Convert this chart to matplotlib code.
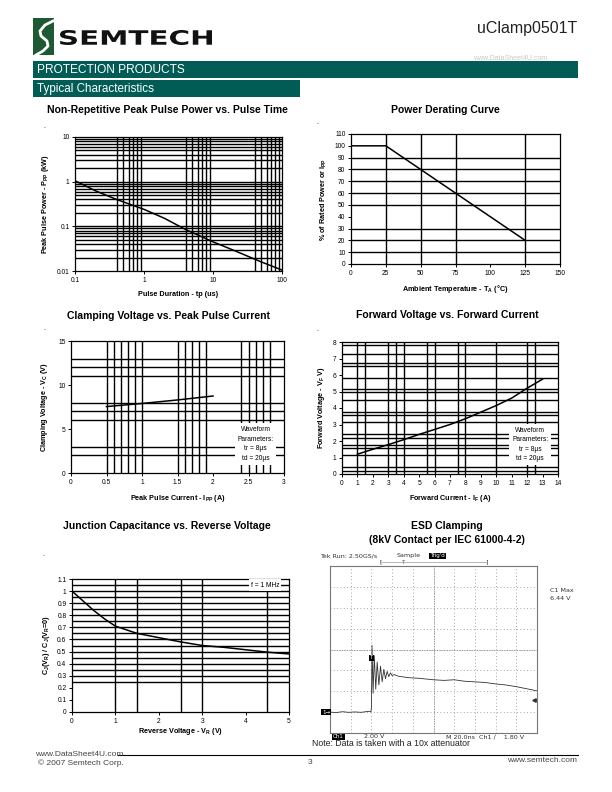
import matplotlib
matplotlib.use("Agg")
import matplotlib.pyplot as plt
from matplotlib.patches import Rectangle, PathPatch
from matplotlib.textpath import TextPath
from matplotlib.font_manager import FontProperties
from matplotlib.transforms import Affine2D
from matplotlib.lines import Line2D

W, H = 612, 792
GREEN = "#005c55"
LOGO_GREEN = "#1d5a34"
NARROW = ["Liberation Sans Narrow", "Liberation Sans", "DejaVu Sans"]

# ---- data ----
pulse_tp = [0.1, 0.2, 0.4, 1, 2, 4, 10, 20, 50, 100]
pulse_ppp = [1.05, 0.62, 0.40, 0.24, 0.15, 0.085, 0.045, 0.029, 0.016, 0.0105]
pulse_vgrid = [0.4, 0.5, 0.6, 0.7, 0.8, 0.9, 4, 5, 6, 7, 8, 9, 40, 50, 60, 70, 80, 90]
pulse_hgrid = [0.02, 0.03, 0.04, 0.05, 0.06, 0.07, 0.08, 0.09, 0.1,
               0.2, 0.3, 0.4, 0.5, 0.6, 0.7, 0.8, 0.9, 1,
               2, 3, 4, 5, 6, 7, 8, 9]

derate_temp = [0, 25, 125]
derate_pct = [100, 100, 20]
derate_vgrid = [25, 50, 75, 125]
derate_hgrid = [10, 20, 30, 50, 60, 70, 80, 90]

clamp_ipp = [0.5, 1.0, 1.5, 2.0]
clamp_vc = [7.55, 7.9, 8.3, 8.75]
clamp_vgrid = [0.5, 0.6, 0.7, 0.8, 0.9, 1.0, 1.5, 1.6, 1.7, 1.8, 1.9, 2.4, 2.5, 2.6, 2.7, 2.8]
clamp_hgrid = [2, 3, 6, 7, 8, 11, 12, 13]

fwd_if = [1, 2, 3, 4, 5, 6, 7, 8, 9, 10, 11, 12, 13]
fwd_vf = [1.2, 1.5, 1.78, 2.08, 2.4, 2.7, 3.0, 3.35, 3.75, 4.15, 4.6, 5.2, 5.75]
fwd_vgrid = [1, 1.5, 3, 3.5, 4, 5.5, 6, 7.5, 8, 10, 12, 12.5]
fwd_hgrid = [7.8, 7.3, 6.7, 6.55, 5.8, 5.15, 4.95, 4.5, 3.75, 3.6, 3.15,
             2.4, 2.2, 1.75, 1.55, 1.15, 0.4, 0.2]

cap_vr = [0, 0.25, 0.5, 0.75, 1, 1.5, 2, 2.5, 3, 3.5, 4, 4.5, 5]
cap_ratio = [1.0, 0.92, 0.84, 0.77, 0.71, 0.65, 0.615, 0.58, 0.55, 0.535, 0.515, 0.495, 0.48]
cap_vgrid = [1, 1.5, 2.5, 3, 4.5]
cap_hgrid = [0.25, 0.3, 0.35, 0.4, 0.45, 0.5, 0.55, 0.6, 0.65, 0.7, 0.75,
             0.8, 0.85, 0.9, 0.95, 1.0, 1.05]

# scope trace, in screen divisions (10 x 8)
esd_x = [0, 0.3, 0.6, 0.9, 1.2, 1.5, 1.8, 1.98, 2.0, 2.03, 2.08, 2.14, 2.21, 2.28,
         2.36, 2.44, 2.52, 2.6, 2.68, 2.76, 2.84, 2.92, 3.0, 3.1, 3.3, 3.8, 4.3,
         5.0, 5.5, 6.0, 6.5, 7.0, 7.5, 8.0, 8.5, 9.0, 9.5, 10.0]
esd_y = [1.0, 0.98, 1.02, 0.99, 1.01, 0.99, 1.03, 1.02, 1.2, 4.2, 1.9, 3.7, 2.1, 3.4,
         2.3, 3.2, 2.45, 3.05, 2.6, 2.95, 2.7, 2.88, 2.75, 2.8, 2.72, 2.65, 2.62,
         2.55, 2.52, 2.55, 2.48, 2.45, 2.42, 2.35, 2.3, 2.22, 2.12, 2.02]

plt.rcParams['font.family'] = ['Liberation Sans', 'DejaVu Sans']
plt.rcParams['mathtext.default'] = 'regular'

fig = plt.figure(figsize=(6.12, 7.92), dpi=100)


def box(x0, y0, x1, y1):
    return [x0 / W, 1 - y1 / H, (x1 - x0) / W, (y1 - y0) / H]


def ftext(x, y, s, **kw):
    kw.setdefault('va', 'center')
    return fig.text(x / W, 1 - y / H, s, **kw)


def frect(x0, y0, x1, y1, color):
    fig.add_artist(Rectangle((x0 / W, 1 - y1 / H), (x1 - x0) / W, (y1 - y0) / H,
                             transform=fig.transFigure, color=color, lw=0))


def fline(xs, ys, **kw):
    fig.add_artist(Line2D([x / W for x in xs], [1 - y / H for y in ys],
                          transform=fig.transFigure, **kw))


def style(ax, xlabel, ylabel, xpad=3, ypad=3):
    for sp in ax.spines.values():
        sp.set_linewidth(0.9)
    ax.tick_params(labelsize=4.8, length=2.5, width=0.7, pad=1.5, direction='out')
    ax.set_xlabel(xlabel, fontsize=5.2, fontweight='bold', labelpad=xpad)
    ax.set_ylabel(ylabel, fontsize=5.2, fontweight='bold', labelpad=ypad)


def grid(ax, vlines, hlines):
    for v in vlines:
        ax.axvline(v, color='black', lw=1.0, zorder=1)
    for h in hlines:
        ax.axhline(h, color='black', lw=1.0, zorder=1)


# ---- header ----
frect(33, 18, 54, 55, LOGO_GREEN)
fline([53, 45, 40, 41, 47, 48, 43, 36], [21, 25, 31, 36, 41, 46, 51, 55], color='white', lw=2.0)
tp = TextPath((0, 0), "SEMTECH", size=1, prop=FontProperties(family='DejaVu Sans', weight='bold'))
ext = tp.get_extents()
tr = (Affine2D().translate(-ext.x0, -ext.y0).scale(152 / ext.width, 15 / ext.height)
      .translate(60, H - 45).scale(1 / W, 1 / H) + fig.transFigure)
fig.add_artist(PathPatch(tp, transform=tr, color='#111111', lw=0))
ftext(577, 28, "uClamp0501T", fontsize=11.5, ha='right', color='#222222')
ftext(510, 59, "www.DataSheet4U.com", fontsize=5, ha='center', color='#c8c8c8')

frect(33, 61, 578, 78, GREEN)
ftext(37, 70, "PROTECTION PRODUCTS", fontsize=8.6, color='white', family=NARROW)
frect(33, 80, 300, 97, GREEN)
ftext(37, 89, "Typical Characteristics", fontsize=8.4, color='white', family=NARROW)

title_kw = dict(fontsize=7.5, fontweight='bold', ha='center', family=NARROW)
ftext(167, 110, "Non-Repetitive Peak Pulse Power vs. Pulse Time", **title_kw)
ftext(445, 110, "Power Derating Curve", **title_kw)
ftext(168, 316, "Clamping Voltage vs. Peak Pulse Current", **title_kw)
ftext(447, 315, "Forward Voltage vs. Forward Current", **title_kw)
ftext(167, 526, "Junction Capacitance vs. Reverse Voltage", **title_kw)
ftext(447, 526, "ESD Clamping", **title_kw)
ftext(447, 540, "(8kV Contact per IEC 61000-4-2)", **title_kw)
for dx, dy in [(43, 126), (316, 123), (43, 328), (316, 329), (42, 555)]:
    ftext(dx, dy, ".", fontsize=5)

# ---- peak pulse power ----
ax1 = fig.add_axes(box(75, 137, 282, 271))
ax1.set_xscale('log')
ax1.set_yscale('log')
grid(ax1, pulse_vgrid, pulse_hgrid)
ax1.plot(pulse_tp, pulse_ppp, color='black', lw=1.1, zorder=3)
ax1.set_xlim(0.1, 100)
ax1.set_ylim(0.01, 10)
ax1.set_xticks([0.1, 1, 10, 100], ["0.1", "1", "10", "100"])
ax1.set_yticks([0.01, 0.1, 1, 10], ["0.01", "0.1", "1", "10"])
ax1.minorticks_off()
style(ax1, "Pulse Duration - tp (us)", "Peak Pulse Power - P$_{PP}$ (kW)", 5, 4)

# ---- power derating ----
ax2 = fig.add_axes(box(351, 134, 560, 264))
grid(ax2, derate_vgrid, derate_hgrid)
ax2.plot(derate_temp, derate_pct, color='black', lw=1.1, zorder=3)
ax2.set_xlim(0, 150)
ax2.set_ylim(0, 110)
ax2.set_xticks([0, 25, 50, 75, 100, 125, 150])
ax2.set_yticks(range(0, 111, 10))
style(ax2, "Ambient Temperature - T$_A$ ($\\degree$C)", "% of Rated Power or I$_{PP}$", 5, 4)

# ---- clamping voltage ----
ax3 = fig.add_axes(box(71, 341, 284, 473))
grid(ax3, clamp_vgrid, clamp_hgrid)
ax3.plot(clamp_ipp, clamp_vc, color='black', lw=1.1, zorder=3)
ax3.set_xlim(0, 3)
ax3.set_ylim(0, 15)
ax3.set_xticks([0, 0.5, 1, 1.5, 2, 2.5, 3], ["0", "0.5", "1", "1.5", "2", "2.5", "3"])
ax3.set_yticks([0, 5, 10, 15])
ax3.text(2.6, 3.3, "Waveform\nParameters:\ntr = 8\u00b5s\ntd = 20\u00b5s", fontsize=4.8,
         ha='center', va='center', linespacing=1.5, zorder=5,
         bbox=dict(facecolor='white', edgecolor='none', pad=2))
style(ax3, "Peak Pulse Current - I$_{PP}$ (A)", "Clamping Voltage - V$_C$ (V)", 5, 6)

# ---- forward voltage ----
ax4 = fig.add_axes(box(342, 342, 558, 474))
grid(ax4, fwd_vgrid, fwd_hgrid)
ax4.plot(fwd_if, fwd_vf, color='black', lw=1.1, zorder=3)
ax4.set_xlim(0, 14)
ax4.set_ylim(0, 8)
ax4.set_xticks(range(0, 15))
ax4.set_yticks(range(0, 9))
ax4.text(12.2, 1.8, "Waveform\nParameters:\ntr = 8\u00b5s\ntd = 20\u00b5s", fontsize=4.8,
         ha='center', va='center', linespacing=1.5, zorder=5,
         bbox=dict(facecolor='white', edgecolor='none', pad=2))
style(ax4, "Forward Current - I$_F$ (A)", "Forward Voltage - V$_F$ V)", 5, 4)

# ---- junction capacitance ----
ax5 = fig.add_axes(box(72, 579, 289, 712))
grid(ax5, cap_vgrid, cap_hgrid)
ax5.plot(cap_vr, cap_ratio, color='black', lw=1.1, zorder=3)
ax5.set_xlim(0, 5)
ax5.set_ylim(0, 1.1)
ax5.set_xticks(range(0, 6))
ax5.set_yticks([0, 0.1, 0.2, 0.3, 0.4, 0.5, 0.6, 0.7, 0.8, 0.9, 1.0, 1.1],
               ["0", "0.1", "0.2", "0.3", "0.4", "0.5", "0.6", "0.7", "0.8", "0.9", "1", "1.1"])
ax5.text(4.45, 1.05, "f = 1 MHz", fontsize=4.8, ha='center', va='center', zorder=5,
         bbox=dict(facecolor='white', edgecolor='none', pad=1.5))
style(ax5, "Reverse Voltage - V$_R$ (V)", "C$_J$(V$_R$) / C$_J$(V$_R$=0)", 1, 4)

# ---- ESD scope shot ----
ax6 = fig.add_axes(box(330, 566, 537, 733))
ax6.set_xlim(0, 10)
ax6.set_ylim(0, 8)
ax6.set_xticks([])
ax6.set_yticks([])
for sp in ax6.spines.values():
    sp.set_color('#777777')
    sp.set_linewidth(0.8)
for i in range(1, 10):
    ax6.axvline(i, color='#888888', lw=0.6, ls=(0, (1, 3)))
for j in range(1, 8):
    ax6.axhline(j, color='#888888', lw=0.6, ls=(0, (1, 3)))
ax6.axvline(5, color='#888888', lw=0.6, ls=(0, (1, 1)))
ax6.axhline(4, color='#888888', lw=0.6, ls=(0, (1, 1)))
ax6.plot(esd_x, esd_y, color='#333333', lw=0.6, zorder=3)
ax6.plot([9.85], [1.6], marker='<', color='#333333', ms=2.5)
ax6.text(2.0, 3.6, "T", fontsize=3.8, color='white', ha='center', va='center',
         bbox=dict(facecolor='black', edgecolor='none', pad=0.6), zorder=4)

sm = dict(fontsize=4.6, family='DejaVu Sans', color='#333333')
ftext(320, 556, "Tek Run: 2.50GS/s", **sm)
ftext(397, 556, "Sample", **sm)
ftext(430, 556, "Trig'd", fontsize=4, family='DejaVu Sans', color='white',
      bbox=dict(facecolor='black', edgecolor='none', pad=0.6))
fline([381, 486], [562, 562], color='#999999', lw=0.5)
ftext(380, 562, "[", **sm)
ftext(485, 562, "]", **sm)
ftext(401, 563, "T", fontsize=4, family='DejaVu Sans', color='#555555')
ftext(322, 712, "1\u2192", fontsize=4, family='DejaVu Sans', color='white',
      bbox=dict(facecolor='black', edgecolor='none', pad=0.5))
ftext(333, 737, "Ch1", fontsize=4, family='DejaVu Sans', color='white',
      bbox=dict(facecolor='black', edgecolor='none', pad=0.6))
ftext(364, 737, "2.00 V", **sm)
ftext(446, 737, "M 20.0ns  Ch1 \u2215    1.80 V", **sm)
ftext(550, 591, "C1 Max", **sm)
ftext(550, 598, "6.44 V", **sm)
ftext(312, 744, "Note: Data is taken with a 10x attenuator", fontsize=6.3, color='#222222')

# ---- footer ----
fline([118, 578], [755, 755], color='black', lw=0.8)
ftext(35, 754, "www.DataSheet4U.com", fontsize=6, color='#444444')
ftext(38, 763, "\u00a9 2007 Semtech Corp.", fontsize=6, color='#444444')
ftext(308, 763, "3", fontsize=6, color='#444444')
ftext(577, 761, "www.semtech.com", fontsize=6, ha='right', color='#444444')

fig.savefig("out.png", dpi=100)
